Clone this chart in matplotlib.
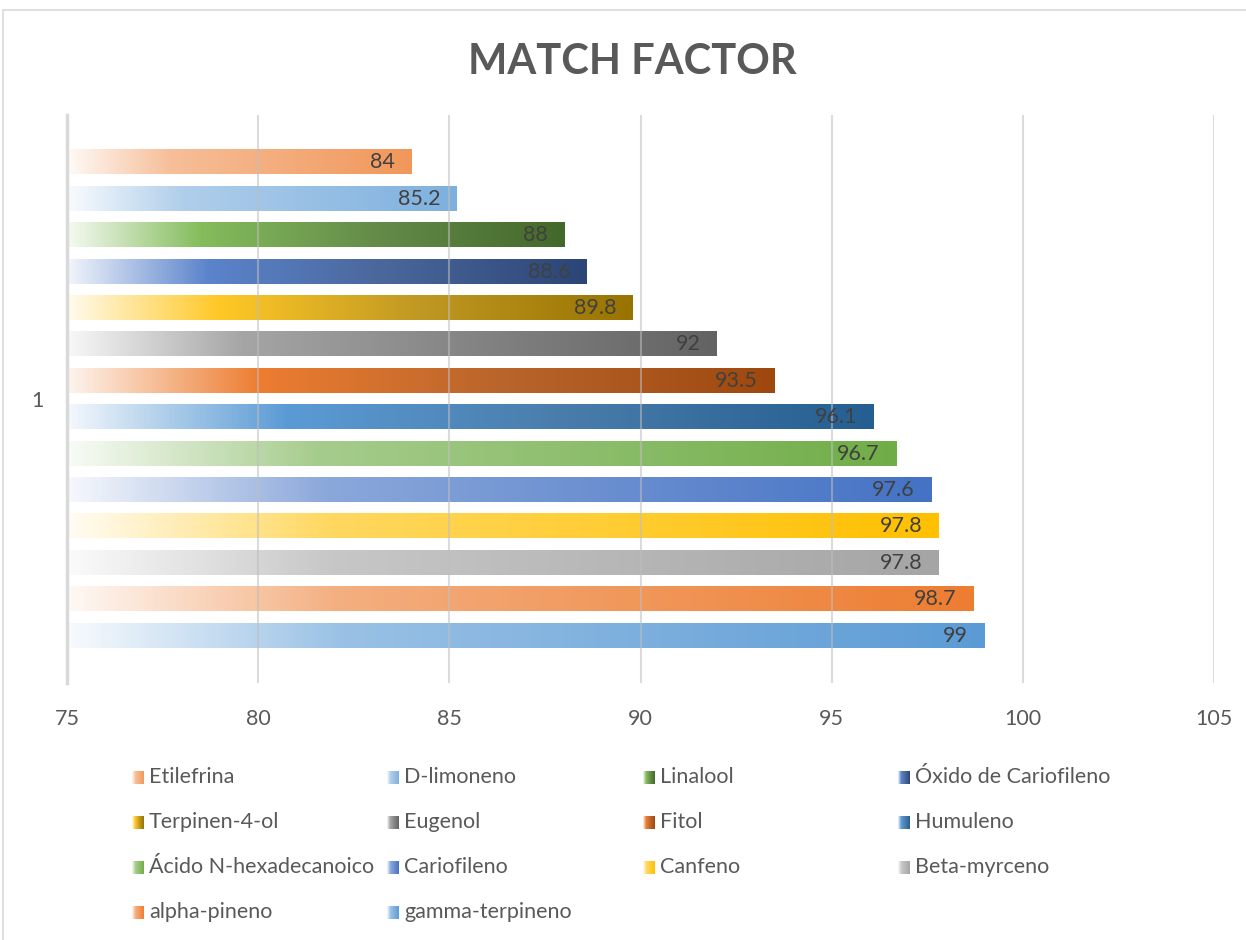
import numpy as np
import matplotlib
matplotlib.use("Agg")
import matplotlib.pyplot as plt
from matplotlib.colors import LinearSegmentedColormap, to_rgb
from matplotlib.patches import Rectangle

plt.rcParams['font.family'] = ['Lato', 'DejaVu Sans']

# data, top bar first
names = ['Etilefrina', 'D-limoneno', 'Linalool', 'Óxido de Cariofileno',
         'Terpinen-4-ol', 'Eugenol', 'Fitol', 'Humuleno',
         'Ácido N-hexadecanoico', 'Cariofileno', 'Canfeno', 'Beta-myrceno',
         'alpha-pineno', 'gamma-terpineno']
values = [84, 85.2, 88, 88.6, 89.8, 92, 93.5, 96.1, 96.7, 97.6, 97.8, 97.8, 98.7, 99]
# colour at ~1/4 of the bar (None = faded end colour) and colour at the end
mid_colors = [None, None, '#84BC5C', '#5B84CC', '#FFC826', '#A5A5A5', '#ED7D31', '#5B9BD5',
              None, None, None, None, None, None]
end_colors = ['#F1975A', '#7EB0DE', '#43682B', '#2C4577', '#997300', '#636363', '#9E480E', '#255E91',
              '#70AD47', '#4472C4', '#FFC000', '#A5A5A5', '#ED7D31', '#5B9BD5']
xticks = [75, 80, 85, 90, 95, 100, 105]


def mix(c, amount):
    c = np.array(to_rgb(c))
    return tuple(1 - amount * (1 - c))


def make_cmap(mid, end):
    if mid is None:
        stops = [(0, mix(end, 0.05)), (0.3, mix(end, 0.62)), (1, to_rgb(end))]
    else:
        m = np.array(to_rgb(mid))
        e = np.array(to_rgb(end))
        # muted middle, like the office gradient blend
        half = tuple(0.5 * (m + e) * 0.85 + 0.15 * np.mean(0.5 * (m + e)))
        stops = [(0, mix(mid, 0.08)), (0.27, tuple(m)), (0.62, half), (1, tuple(e))]
    return LinearSegmentedColormap.from_list('g', stops)


W, H = 1246, 940
fig = plt.figure(figsize=(W / 100, H / 100), dpi=100)
ax = fig.add_axes([67 / W, 1 - 683 / H, (1214 - 67) / W, (683 - 115) / H])

grad = np.linspace(0, 1, 256).reshape(1, -1)
bh = 0.66
cmaps = []
for i, (v, m, e) in enumerate(zip(values, mid_colors, end_colors)):
    cm = make_cmap(m, e)
    cmaps.append(cm)
    ax.imshow(grad, cmap=cm, extent=(75, v, i + bh / 2, i - bh / 2),
              aspect='auto', interpolation='bilinear', zorder=2)
    ax.annotate(f'{v:g}', (v, i), xytext=(-12, 0), textcoords='offset points',
                ha='right', va='center', fontsize=15.5, color='#404040', zorder=4)

ax.set_xlim(75, 105)
ax.set_ylim(len(values) - 1 + 1.3, -1.3)
ax.set_aspect('auto')
ax.set_xticks(xticks)
ax.set_xticklabels([str(t) for t in xticks])
ax.set_yticks([(len(values) - 1) / 2])
ax.set_yticklabels(['1'])
ax.tick_params(axis='x', length=0, pad=19, labelsize=15.5, labelcolor='#595959')
ax.tick_params(axis='y', length=0, pad=17, labelsize=15.5, labelcolor='#595959')
for t in xticks[1:]:
    ax.axvline(t, color='#BFBFBF', lw=1.5, alpha=0.55, zorder=3)
for s in ['top', 'right', 'bottom']:
    ax.spines[s].set_visible(False)
ax.spines['left'].set_color('#D9D9D9')
ax.spines['left'].set_linewidth(2.5)
ax.spines['left'].set_zorder(3)

fig.text(632 / W, 1 - 62 / H, 'MATCH FACTOR', ha='center', va='center',
         fontsize=30, fontweight='bold', color='#595959')

# chart border
fig.patches.append(Rectangle((3 / W, -0.05), 1.1, 1 - 10 / H + 0.05, transform=fig.transFigure,
                             fill=False, edgecolor='#D9D9D9', lw=1.2))

# legend, row-wise in 4 columns
col_x = [132, 387, 643, 898]
row_y = [777, 822, 867, 912]
for i, name in enumerate(names):
    r, c = divmod(i, 4)
    x0, yc = col_x[c], row_y[r]
    n = 12
    for k in range(n):
        col = cmaps[i]((k + 0.5) / n)
        fig.patches.append(Rectangle(((x0 + k) / W, 1 - (yc + 6.5) / H), 1.05 / W, 13 / H,
                                     transform=fig.transFigure, facecolor=col, lw=0))
    fig.text((x0 + 17) / W, 1 - yc / H, name, ha='left', va='center',
             fontsize=15.5, color='#595959')

fig.savefig('out.png', dpi=100)
